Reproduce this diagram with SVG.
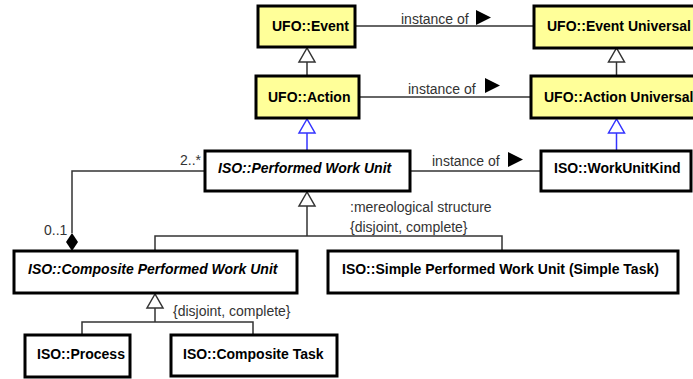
<svg xmlns="http://www.w3.org/2000/svg" width="693" height="379" viewBox="0 0 693 379">
<style>
.box{fill:#fff;stroke:#000;stroke-width:3}
.ufo{fill:#ffff99;stroke:#000;stroke-width:3}
.lbl{font-family:"Liberation Sans",Arial,sans-serif;font-size:14px;font-weight:bold;fill:#000}
.it{font-style:italic}
.t{font-family:"Liberation Sans",Arial,sans-serif;font-size:14px;fill:#333}
.ln{fill:none;stroke:#333;stroke-width:1.5}
.bl{fill:none;stroke:#3333ff;stroke-width:1.5}
.gen{fill:#fff;stroke:#333;stroke-width:1.5}
.genb{fill:#fff;stroke:#3333ff;stroke-width:1.5}
.tri{fill:#000}
</style>
<rect width="693" height="379" fill="#fff"/>
<g id="connectors">
<!-- instance of -->
<line class="ln" x1="355" y1="26" x2="534" y2="26"/>
<text class="t" x="401" y="24">instance of</text>
<polygon class="tri" points="476,10 491,17.5 476,25"/>
<line class="ln" x1="359" y1="97" x2="531" y2="97"/>
<text class="t" x="408" y="94">instance of</text>
<polygon class="tri" points="485,78 500,85.5 485,93"/>
<line class="ln" x1="410" y1="171" x2="541" y2="171"/>
<text class="t" x="432" y="166">instance of</text>
<polygon class="tri" points="508,152 523,159.5 508,167"/>
<!-- generalizations -->
<line class="ln" x1="307" y1="62" x2="307" y2="76"/>
<polygon class="gen" points="307,48 299,62 315,62"/>
<line class="ln" x1="616.5" y1="62" x2="616.5" y2="76"/>
<polygon class="gen" points="616.5,48 608.5,62 624.5,62"/>
<line class="bl" x1="307" y1="133" x2="307" y2="151"/>
<polygon class="genb" points="307,119 299,133 315,133"/>
<line class="bl" x1="616.5" y1="133" x2="616.5" y2="151"/>
<polygon class="genb" points="616.5,119 608.5,133 624.5,133"/>
<polyline class="ln" points="155,251 155,236 502,236 502,251"/>
<line class="ln" x1="307" y1="206" x2="307" y2="236"/>
<polygon class="gen" points="307,192 299,206 315,206"/>
<text class="t" x="350" y="212">:mereological structure</text>
<text class="t" x="350" y="232">{disjoint, complete}</text>
<polyline class="ln" points="82,335 82,322 253,322 253,335"/>
<line class="ln" x1="155" y1="308" x2="155" y2="322"/>
<polygon class="gen" points="155,294 147,308 163,308"/>
<text class="t" x="173" y="316">{disjoint, complete}</text>
<!-- aggregation -->
<polyline class="ln" points="205,171 72,171 72,233"/>
<polygon fill="#000" points="72,233 78,242 72,251 66,242"/>
<text class="t" x="180" y="165">2..*</text>
<text class="t" x="44" y="235">0..1</text>
</g>
<g id="ufo-event"><rect class="ufo" x="258" y="6" width="97" height="41"/><text class="lbl" x="272" y="31">UFO::Event</text></g>
<g id="ufo-event-universal"><rect class="ufo" x="534" y="6" width="170" height="42"/><text class="lbl" x="547" y="31">UFO::Event Universal</text></g>
<g id="ufo-action"><rect class="ufo" x="256" y="76" width="103" height="42"/><text class="lbl" x="268" y="102">UFO::Action</text></g>
<g id="ufo-action-universal"><rect class="ufo" x="531" y="76" width="175" height="42"/><text class="lbl" x="544" y="102">UFO::Action Universal</text></g>
<g id="iso-performed-work-unit"><rect class="box" x="205" y="151" width="205" height="40"/><text class="lbl it" x="218" y="173">ISO::Performed Work Unit</text></g>
<g id="iso-workunitkind"><rect class="box" x="541" y="151" width="150" height="40"/><text class="lbl" x="554" y="173">ISO::WorkUnitKind</text></g>
<g id="iso-composite-performed-work-unit"><rect class="box" x="14" y="251" width="283" height="42"/><text class="lbl it" x="28" y="274">ISO::Composite Performed Work Unit</text></g>
<g id="iso-simple-performed-work-unit"><rect class="box" x="328" y="251" width="350" height="42"/><text class="lbl" x="342" y="274">ISO::Simple Performed Work Unit (Simple Task)</text></g>
<g id="iso-process"><rect class="box" x="25" y="335" width="105" height="42"/><text class="lbl" x="37" y="359">ISO::Process</text></g>
<g id="iso-composite-task"><rect class="box" x="171" y="335" width="166" height="41"/><text class="lbl" x="183" y="359">ISO::Composite Task</text></g>
</svg>
